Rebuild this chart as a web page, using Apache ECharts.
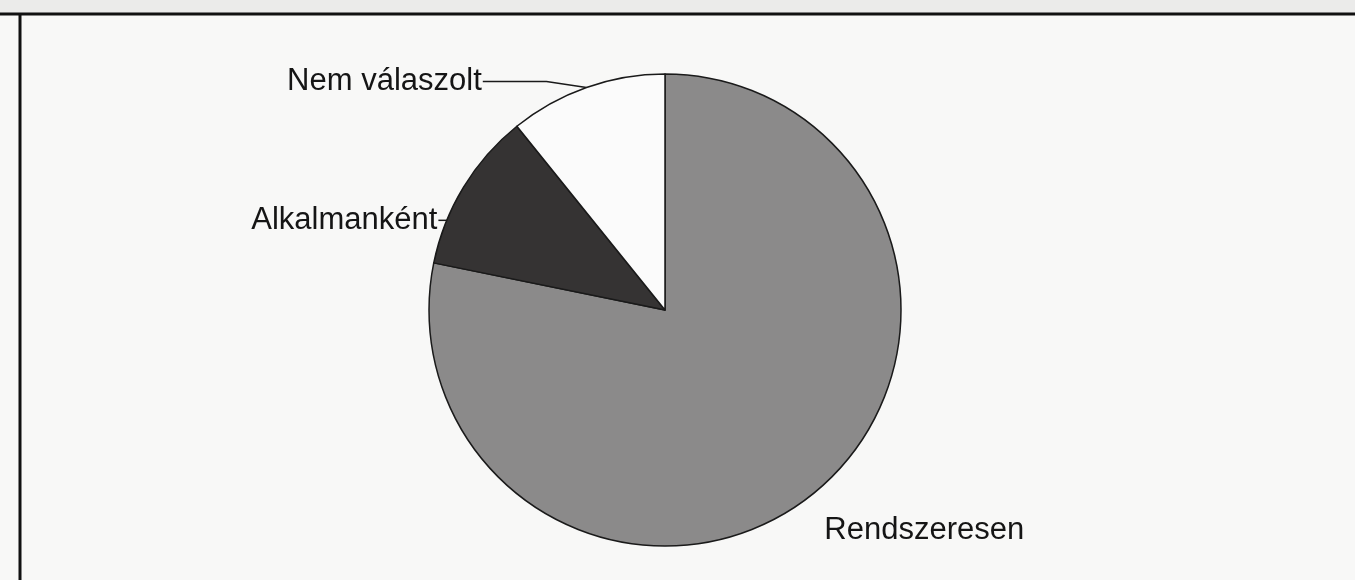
<!DOCTYPE html>
<html>
<head>
<meta charset="utf-8">
<script src="https://cdn.jsdelivr.net/npm/echarts@6/dist/echarts.min.js"></script>
<style>
  html, body { margin: 0; padding: 0; background: #f8f8f7; }
  #chart { width: 1355px; height: 580px; }
</style>
</head>
<body>
<div id="chart"></div>
<script>
// válaszok megoszlása (%)
const categories = ['Rendszeresen', 'Alkalmanként', 'Nem válaszolt'];
const values = [78.2, 11, 10.8];
const colors = ['#8b8a8a', '#353333', '#fbfbfb'];

const chart = echarts.init(document.getElementById('chart'));

// címkék vonalai szeletenként
const labelCfg = [
  { labelLine: { show: false, length: 38, length2: 0 }, label: { distanceToLabelLine: 0 } },
  { labelLine: { show: true, length: 0, length2: 12 }, label: { distanceToLabelLine: 2 } },
  { labelLine: { show: true, length: 2, length2: 102 }, label: { distanceToLabelLine: 2 } }
];

const option = {
  backgroundColor: '#f8f8f7',
  animation: false,
  graphic: [
    // keret
    { type: 'rect', shape: { x: 0, y: 0, width: 1355, height: 13 }, style: { fill: '#ebebea' }, silent: true },
    { type: 'line', shape: { x1: 0, y1: 14, x2: 1355, y2: 14 }, style: { stroke: '#111', lineWidth: 3 }, silent: true },
    { type: 'line', shape: { x1: 20, y1: 14, x2: 20, y2: 580 }, style: { stroke: '#111', lineWidth: 3 }, silent: true }
  ],
  series: [
    {
      type: 'pie',
      center: [665, 310],
      radius: 236,
      startAngle: 90,
      clockwise: true,
      avoidLabelOverlap: false,
      itemStyle: { borderColor: '#1a1a1a', borderWidth: 1.5 },
      label: {
        show: true,
        position: 'outside',
        fontFamily: 'Liberation Sans, Arial, sans-serif',
        fontSize: 31,
        color: '#151515'
      },
      labelLine: {
        lineStyle: { color: '#1a1a1a', width: 1.5 }
      },
      labelLayout: function (params) {
        const r = params.labelRect;
        if (params.dataIndex === 0) {
          return { dx: -14, dy: 8 };
        }
        // Alkalmanként címke lejjebb, vonal a kör széléig
        if (params.dataIndex === 1) {
          const sx = -12, sy = 33;
          const ty = r.y + r.height / 2 + sy;
          const d = ty - 310;
          const ex = 665 - Math.sqrt(236 * 236 - d * d);
          return {
            dx: sx,
            dy: sy,
            labelLinePoints: [[ex + 1, ty], [ex - 6, ty], [r.x + r.width + sx + 1, ty]]
          };
        }
        // Nem válaszolt: kissé feljebb, ferde vonal
        if (params.dataIndex === 2 && params.labelLinePoints) {
          const sy = -4;
          const p = params.labelLinePoints;
          const ty = r.y + r.height / 2 + sy;
          return {
            dy: sy,
            labelLinePoints: [p[0], [p[0][0] - 40, p[0][1] - 6], [r.x + r.width + 1, ty]]
          };
        }
      },
      data: categories.map(function (name, i) {
        return Object.assign({
          name: name,
          value: values[i],
          itemStyle: { color: colors[i] }
        }, labelCfg[i]);
      })
    }
  ]
};

chart.setOption(option);
</script>
</body>
</html>
